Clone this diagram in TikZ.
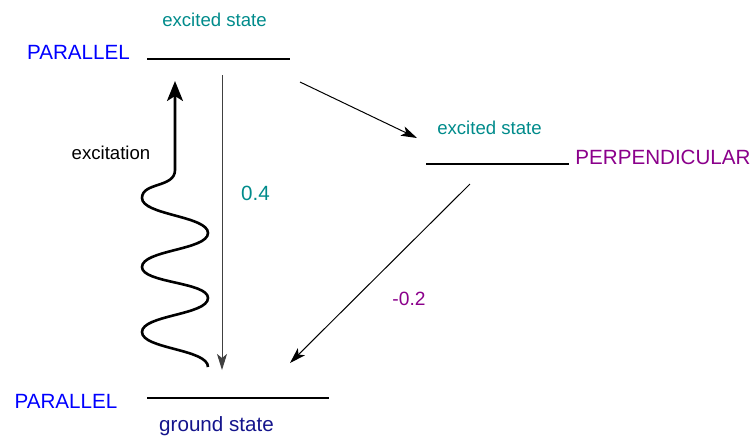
\documentclass[tikz,border=0pt]{standalone}
\usepackage{fontspec}
\setmainfont{Liberation Sans}
\usetikzlibrary{arrows.meta}
\definecolor{stateteal}{RGB}{0,139,139}
\definecolor{perppurple}{RGB}{139,0,139}
\definecolor{groundnavy}{RGB}{20,20,140}
\tikzset{
  small/.style={inner sep=0pt, font=\fontsize{9.3}{11}\selectfont},
  big/.style={inner sep=0pt, font=\fontsize{10.3}{12}\selectfont},
  level/.style={line width=0.6pt},
  arr/.style={-{Stealth[length=8pt,width=5pt,inset=2pt]}, line width=0.5pt},
  wave/.style={-{Stealth[length=10pt,width=8pt,inset=2.5pt]}, line width=1.3pt}
}

\begin{document}
\begin{tikzpicture}[x=0.5pt, y=-0.5pt]
  \useasboundingbox (0,0) rectangle (755,435);

  % --- energy levels ---------------------------------------------------
  \coordinate (parTopL) at (147,59);
  \coordinate (parTopR) at (290,59);
  \coordinate (perpL) at (426,164);
  \coordinate (perpR) at (569,164);
  \coordinate (gndL) at (147,398);
  \coordinate (gndR) at (329,398);

  \draw[level] (parTopL) -- (parTopR);
  \draw[level] (perpL) -- (perpR);
  \draw[level] (gndL) -- (gndR);

  % --- labels ----------------------------------------------------------
  \node[small, text=stateteal] (exTop) at (214.5,20) {excited state};
  \node[big, text=blue] (parTop) at (78.5,52) {PARALLEL};
  \node[small, text=stateteal] (exPerp) at (489.5,128) {excited state};
  \node[big, text=perppurple] (perp) at (663,157) {PERPENDICULAR};
  \node[big, text=blue] (parGnd) at (66,401) {PARALLEL};
  \node[big, text=groundnavy] (gnd) at (216.5,426) {ground state};
  \node[small] (exc) at (111,153) {excitation};
  \node[big, text=stateteal] (fluo) at (255.5,193) {0.4};
  \node[inner sep=0pt, font=\fontsize{9.6}{11}\selectfont, text=perppurple] (isc) at (409,299) {-0.2};

  % --- transitions -----------------------------------------------------
  \coordinate (vertA) at (222,75);
  \coordinate (vertB) at (222,370);
  \coordinate (diagA) at (300,82);
  \coordinate (diagB) at (417,138);
  \coordinate (downA) at (470,184);
  \coordinate (downB) at (290,363);
  \coordinate (waveBot) at (208,367);
  \coordinate (waveTop) at (175,81);

  \draw[arr, black!75] (vertA) -- (vertB);
  \draw[arr] (diagA) -- (diagB);
  \draw[arr] (downA) -- (downB);

  \draw[wave] (waveBot) .. controls (208,349) and (142,349) .. (142,332)
      .. controls (142,315) and (208,315) .. (208,298)
      .. controls (208,282) and (142,283) .. (142,267)
      .. controls (142,250) and (208,250) .. (208,233)
      .. controls (208,216) and (142,215) .. (142,198)
      .. controls (142,182) and (175,188) .. (175,170) -- (waveTop);
\end{tikzpicture}
\end{document}
